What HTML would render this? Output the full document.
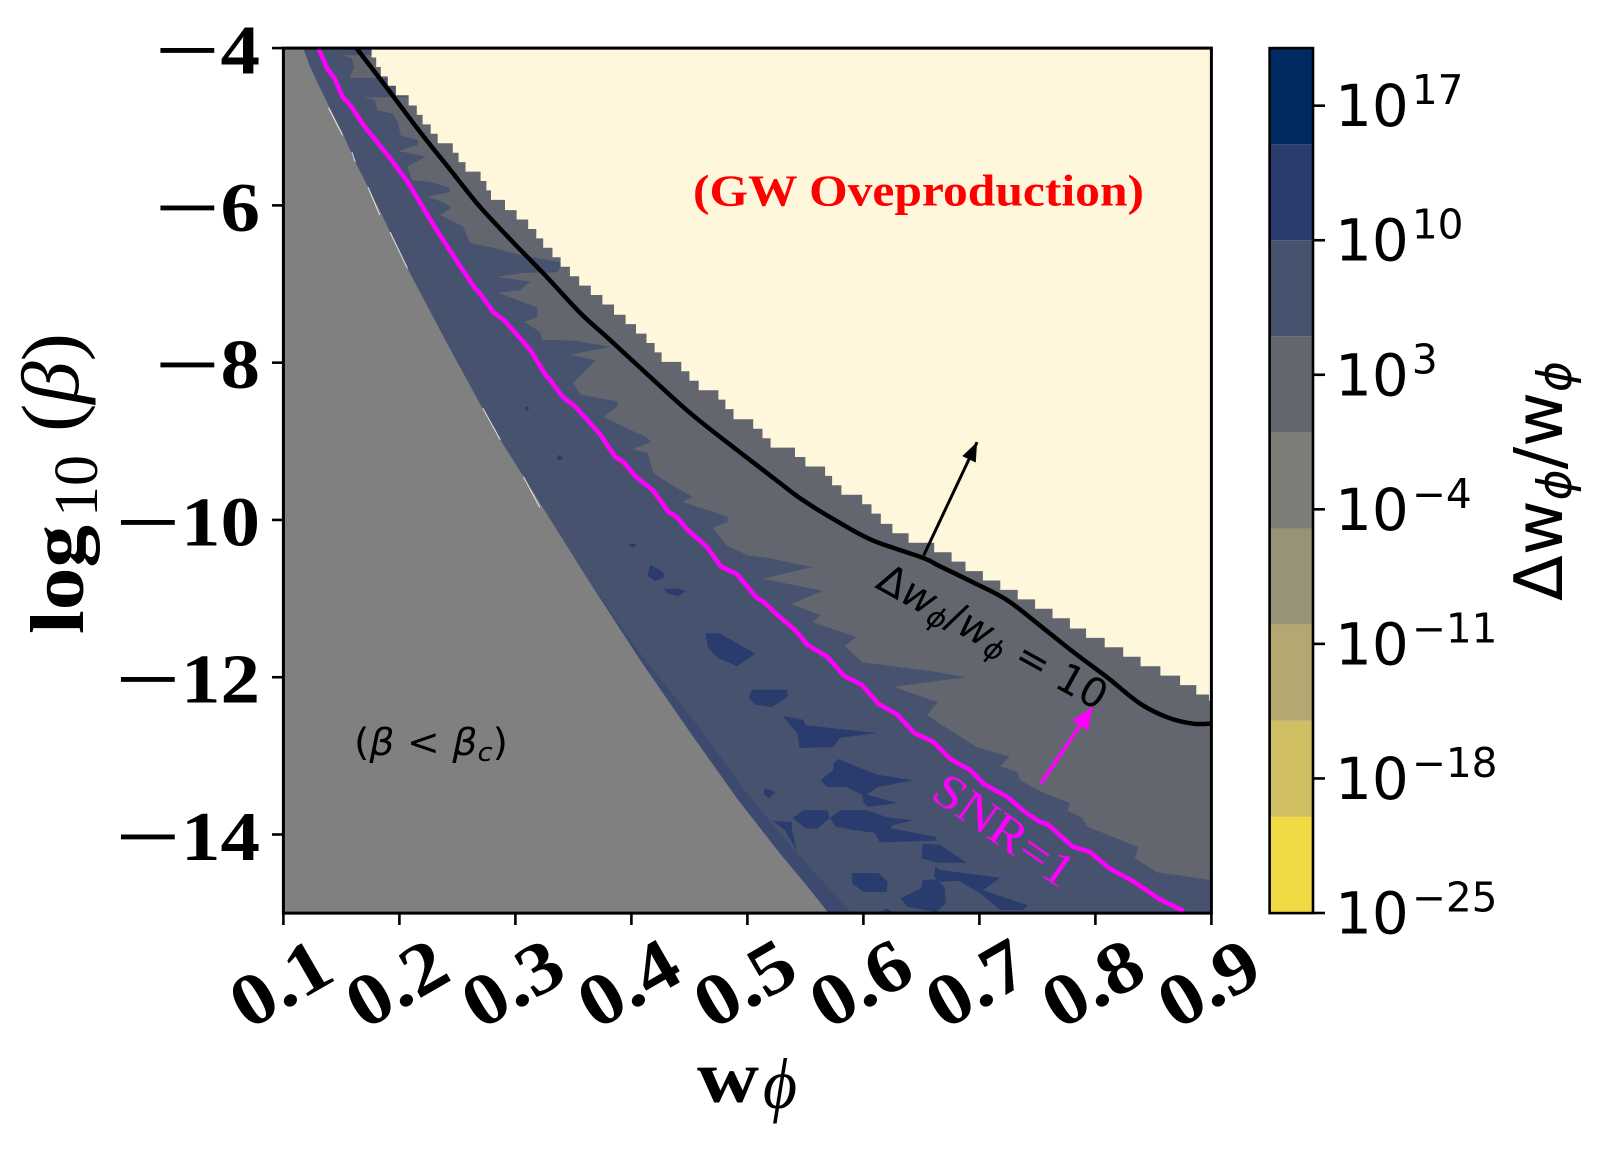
<!DOCTYPE html>
<html>
<head>
<meta charset="utf-8">
<title>Delta w contour chart</title>
<style>
html,body{margin:0;padding:0;background:#fff;width:1610px;height:1151px;overflow:hidden}
svg{display:block}
.serif{font-family:"Liberation Serif",serif}
.sans{font-family:"DejaVu Sans",sans-serif}
</style>
</head>
<body>
<svg id="chart" xmlns="http://www.w3.org/2000/svg" width="1610" height="1151" viewBox="0 0 1610 1151">
<defs><clipPath id="plot-clip"><rect x="283.4" y="48.1" width="928" height="865"/></clipPath></defs>
<g id="plot" clip-path="url(#plot-clip)"></g>
<g id="axes"></g>

<text class="serif" x="693" y="205.7" font-size="44" font-weight="bold" fill="#ff0000" textLength="451" lengthAdjust="spacingAndGlyphs">(GW Oveproduction)</text>
<text class="sans" x="354" y="755" font-size="37" fill="#000" textLength="154" lengthAdjust="spacingAndGlyphs">(<tspan font-style="italic">β</tspan> &lt; <tspan font-style="italic">β</tspan><tspan font-style="italic" font-size="26" dy="6">c</tspan><tspan dy="-6">)</tspan></text>
<text class="sans" transform="translate(874,587) rotate(29)" font-size="40.5" fill="#000">Δ<tspan font-style="italic">w</tspan><tspan font-style="italic" font-size="28" dy="6">ϕ</tspan><tspan dy="-6">/</tspan><tspan font-style="italic">w</tspan><tspan font-style="italic" font-size="28" dy="6">ϕ</tspan><tspan dy="-6"> = 10</tspan></text>
<text class="serif" transform="translate(929,797) rotate(35)" font-size="48" fill="#ff00ff" textLength="161" lengthAdjust="spacingAndGlyphs">SNR=1</text>

<text class="serif" fill="#000"><tspan x="697" y="1102" font-size="74" font-weight="bold" textLength="62" lengthAdjust="spacingAndGlyphs">w</tspan><tspan x="763" y="1108" font-size="72" font-style="italic" font-weight="normal" textLength="34" lengthAdjust="spacingAndGlyphs">ϕ</tspan></text>
<text class="serif" transform="translate(83,634) rotate(-90)" fill="#000"><tspan x="0" y="0" font-size="76" font-weight="bold" textLength="109" lengthAdjust="spacingAndGlyphs">log</tspan><tspan x="117" y="14" font-size="62" font-weight="normal" textLength="62" lengthAdjust="spacingAndGlyphs">10</tspan><tspan x="202" y="-5" font-size="82" font-weight="normal" textLength="99" lengthAdjust="spacingAndGlyphs">(<tspan font-style="italic">β</tspan>)</tspan></text>
<text class="sans" transform="translate(1562,601) rotate(-90)" font-size="67" fill="#000">Δw<tspan font-style="italic" font-size="47" dy="9">ϕ</tspan><tspan dy="-9">/w</tspan><tspan font-style="italic" font-size="47" dy="9">ϕ</tspan></text>
</svg>

<script>
// ---- chart data (w_phi, log10 beta) ----
const xTicks = [0.1,0.2,0.3,0.4,0.5,0.6,0.7,0.8,0.9];
const xTickLabels = ['0.1','0.2','0.3','0.4','0.5','0.6','0.7','0.8','0.9'];
const yTicks = [-4,-6,-8,-10,-12,-14];
const yTickLabels = ['4','6','8','10','12','14'];
const cbLevels = [-25,-20,-15,-10,-5,0,5,10,15,20];
const cbColors = ['#f1d944','#d0be62','#b3a871','#989376','#7e7d77','#63666f','#47536e','#2a3c6e','#002a62'];
const cbTicks = [17,10,3,-4,-11,-18,-25];
const cbTickLabels = ['17','10','3','−4','−11','−18','−25'];

const gwEdgeW = [.176,.180,.184,.190,.197,.208,.215,.220,.227,.233,.246,.251,.257,.270,.275,.279,.291,.301,.311,.318,.324,.332,.339,.347,.355,.365,.375,.385,.395,.404,.413,.420,.426,.443,.450,.458,.475,.481,.488,.505,.513,.520,.541,.550,.567,.573,.581,.599,.607,.615,.625,.639,.661,.676,.688,.703,.718,.733,.748,.763,.778,.792,.808,.824,.839,.856,.873,.887,.898];
const gwEdgeB = [-4.00,-4.12,-4.24,-4.36,-4.48,-4.60,-4.73,-4.85,-4.97,-5.09,-5.21,-5.33,-5.45,-5.57,-5.69,-5.81,-5.93,-6.06,-6.18,-6.30,-6.42,-6.54,-6.66,-6.78,-6.90,-7.02,-7.14,-7.26,-7.39,-7.51,-7.63,-7.75,-7.87,-7.99,-8.11,-8.23,-8.35,-8.47,-8.59,-8.72,-8.84,-8.96,-9.08,-9.20,-9.32,-9.44,-9.56,-9.68,-9.80,-9.92,-10.05,-10.17,-10.29,-10.41,-10.53,-10.65,-10.77,-10.89,-11.01,-11.13,-11.25,-11.38,-11.50,-11.62,-11.74,-11.86,-11.98,-12.10,-12.22,-12.30];

const darkEdgeW = [.178,.181,.151,.159,.161,.157,.196,.207,.169,.179,.181,.194,.199,.201,.216,.216,.199,.207,.223,.207,.211,.226,.242,.244,.224,.238,.245,.235,.255,.261,.281,.304,.341,.336,.307,.284,.313,.304,.285,.319,.319,.308,.321,.323,.351,.382,.347,.369,.350,.356,.388,.388,.376,.390,.413,.417,.401,.414,.419,.432,.453,.444,.483,.483,.470,.482,.500,.517,.556,.513,.565,.538,.563,.556,.594,.584,.599,.662,.688,.626,.664,.655,.672,.698,.726,.718,.733,.735,.755,.778,.776,.789,.793,.815,.837,.834,.853,.882,.900];
const darkEdgeB = [-4.00,-4.09,-4.09,-4.13,-4.25,-4.38,-4.38,-4.62,-4.63,-4.66,-4.79,-4.83,-4.95,-5.11,-5.17,-5.23,-5.31,-5.33,-5.38,-5.51,-5.68,-5.70,-5.77,-5.83,-5.89,-5.96,-6.03,-6.12,-6.27,-6.48,-6.54,-6.63,-6.73,-6.85,-6.86,-6.91,-6.97,-7.08,-7.11,-7.30,-7.42,-7.48,-7.61,-7.71,-7.72,-7.80,-7.90,-7.97,-8.26,-8.41,-8.49,-8.56,-8.69,-8.79,-8.95,-9.01,-9.10,-9.15,-9.40,-9.53,-9.71,-9.77,-9.96,-10.03,-10.10,-10.32,-10.45,-10.48,-10.60,-10.75,-10.90,-11.07,-11.21,-11.30,-11.49,-11.60,-11.81,-11.93,-12.00,-12.12,-12.32,-12.48,-12.65,-12.89,-13.01,-13.13,-13.21,-13.31,-13.47,-13.60,-13.70,-13.79,-13.90,-14.03,-14.16,-14.30,-14.48,-14.54,-14.58];

const grayEdgeW = [.117,.123,.129,.140,.151,.162,.173,.185,.196,.207,.218,.242,.269,.287,.307,.324,.360,.407,.451,.492,.528,.550,.570];
const grayEdgeB = [-4.00,-4.24,-4.43,-4.76,-5.08,-5.45,-5.77,-6.12,-6.47,-6.80,-7.11,-7.78,-8.51,-8.98,-9.45,-9.85,-10.70,-11.77,-12.71,-13.56,-14.24,-14.63,-15.00];

const bandEdgeW = [.360,.409,.457,.504,.543,.590];
const bandEdgeB = [-10.70,-11.72,-12.61,-13.56,-14.24,-15.00];

const patchW = [
 [.416,.427,.429,.420,.414],
 [.428,.439,.447,.440,.431],
 [.464,.476,.507,.491,.475,.466],
 [.504,.534,.535,.521,.507,.501],
 [.530,.548,.550,.612,.580,.574,.545,.543],
 [.578,.612,.643,.612,.603,.629,.604,.600,.599,.586,.569,.563,.574,.574],
 [.539,.548,.569,.571,.560,.550],
 [.571,.580,.603,.620,.643,.626,.623,.663,.662,.614,.610,.590,.576],
 [.651,.666,.689,.663,.650],
 [.662,.666,.718,.703,.742,.738,.718,.700,.682,.666,.661],
 [.590,.613,.621,.620,.600,.590],
 [.632,.650,.651,.663,.670,.671,.663,.638],
 [.522,.538,.539,.543,.532],
 [.614,.620,.626],
 [.515,.524,.519,.514],
 [.308,.310,.312,.310],
 [.335,.338,.341,.338],
 [.397,.401,.405,.401]
];
const patchB = [
 [-10.57,-10.66,-10.73,-10.78,-10.71],
 [-10.88,-10.87,-10.90,-10.97,-10.93],
 [-11.44,-11.44,-11.70,-11.86,-11.76,-11.63],
 [-12.16,-12.16,-12.25,-12.38,-12.35,-12.26],
 [-12.49,-12.54,-12.61,-12.71,-12.77,-12.89,-12.90,-12.71],
 [-13.04,-13.24,-13.31,-13.40,-13.49,-13.60,-13.65,-13.59,-13.50,-13.40,-13.40,-13.31,-13.18,-13.10],
 [-13.79,-13.69,-13.69,-13.79,-13.93,-13.92],
 [-13.79,-13.69,-13.69,-13.78,-13.82,-13.88,-13.92,-14.03,-14.08,-14.10,-13.98,-13.94,-13.90],
 [-14.12,-14.13,-14.36,-14.36,-14.30],
 [-14.41,-14.45,-14.55,-14.71,-14.90,-14.96,-14.96,-14.74,-14.59,-14.60,-14.54],
 [-14.49,-14.49,-14.60,-14.73,-14.73,-14.62],
 [-14.81,-14.68,-14.58,-14.57,-14.67,-14.87,-14.99,-14.92],
 [-13.83,-13.84,-13.98,-14.22,-13.94],
 [-14.99,-14.94,-14.99],
 [-13.41,-13.46,-13.54,-13.49],
 [-8.58,-8.55,-8.58,-8.61],
 [-9.21,-9.17,-9.21,-9.25],
 [-10.32,-10.30,-10.32,-10.35]
];

const sliverW = [[.139,.151],[.159,.162],[.173,.183],[.192,.207],[.272,.287],[.307,.321]];
const sliverB = [[-4.76,-5.11],[-5.32,-5.45],[-5.77,-6.12],[-6.34,-6.80],[-8.58,-8.98],[-9.45,-9.84]];

const snrW = [.130,.138,.144,.151,.159,.169,.192,.207,.232,.250,.265,.269,.281,.291,.313,.326,.329,.341,.351,.373,.386,.393,.403,.419,.432,.439,.448,.465,.477,.491,.508,.514,.526,.541,.552,.569,.583,.599,.613,.629,.644,.660,.675,.692,.704,.724,.738,.752,.759,.780,.795,.813,.832,.856,.876];
const snrB = [-4.00,-4.27,-4.38,-4.62,-4.75,-4.98,-5.40,-5.70,-6.31,-6.72,-7.05,-7.11,-7.36,-7.47,-7.84,-8.16,-8.20,-8.44,-8.55,-8.91,-9.20,-9.26,-9.44,-9.63,-9.90,-9.96,-10.12,-10.34,-10.59,-10.69,-10.99,-11.04,-11.21,-11.40,-11.59,-11.74,-11.98,-12.10,-12.34,-12.47,-12.71,-12.82,-13.04,-13.18,-13.36,-13.52,-13.70,-13.84,-13.87,-14.15,-14.22,-14.44,-14.59,-14.83,-14.97];

const deltaW = [.163,.192,.218,.244,.269,.298,.327,.356,.380,.422,.453,.491,.528,.548,.580,.608,.651,.666,.694,.724,.752,.781,.810,.838,.862,.884,.900];
const deltaB = [-4.00,-4.56,-5.07,-5.55,-6.01,-6.47,-6.91,-7.37,-7.69,-8.26,-8.67,-9.11,-9.53,-9.75,-10.04,-10.26,-10.48,-10.59,-10.79,-11.02,-11.34,-11.68,-12.00,-12.33,-12.51,-12.59,-12.59];

const blackArrowW = [.652,.698];
const blackArrowB = [-10.45,-9.01];
const snrArrowW = [.753,.797];
const snrArrowB = [-13.35,-12.39];

// ---- axis functions ----
const sx = w => 283.4 + (w - 0.1) * 1160;
const sy = b => 48.1 + (-4 - b) * 78.64;
const cy = e => 913 - (e + 25) * (865 / 45);

const NS = 'http://www.w3.org/2000/svg';
const plot = document.getElementById('plot');
const axes = document.getElementById('axes');
function make(tag, attrs, parent) {
  const n = document.createElementNS(NS, tag);
  for (const k in attrs) n.setAttribute(k, attrs[k]);
  parent.appendChild(n);
  return n;
}
const pts = (ws, bs) => ws.map((w, i) => sx(w).toFixed(1) + ',' + sy(bs[i]).toFixed(1));
function smoothPath(ws, bs) {
  const p = ws.map((w, i) => [sx(w), sy(bs[i])]);
  let d = 'M' + p[0][0].toFixed(1) + ' ' + p[0][1].toFixed(1);
  for (let i = 0; i < p.length - 1; i++) {
    const a = p[Math.max(i - 1, 0)], b = p[i], c = p[i + 1], e = p[Math.min(i + 2, p.length - 1)];
    const c1x = b[0] + (c[0] - a[0]) / 6, c1y = b[1] + (c[1] - a[1]) / 6;
    const c2x = c[0] - (e[0] - b[0]) / 6, c2y = c[1] - (e[1] - b[1]) / 6;
    d += ' C' + c1x.toFixed(1) + ' ' + c1y.toFixed(1) + ' ' + c2x.toFixed(1) + ' ' + c2y.toFixed(1) + ' ' + c[0].toFixed(1) + ' ' + c[1].toFixed(1);
  }
  return d;
}
let el;

// base mid-grey level
el = make('rect', {x: sx(.1), y: sy(-4), width: sx(.9) - sx(.1), height: sy(-15) - sy(-4), fill: '#63666f'}, plot);



// dark contour level
el = make('polygon', {points: pts(darkEdgeW, darkEdgeB).concat(pts([.9,.1,.1], [-15,-15,-4])).join(' '), fill: '#47536e'}, plot);



// darker patches
patchW.forEach((ws, i) => {
  const p = make('polygon', {points: pts(ws, patchB[i]).join(' '), fill: '#2a3c6e'}, plot);
  
  
});

// band along the excluded region (only the part of the edge below where the band begins)
const bandFrom = grayEdgeW.findIndex(w => w >= bandEdgeW[0]);
el = make('polygon', {points: pts(bandEdgeW, bandEdgeB).concat(pts(grayEdgeW.slice(bandFrom).reverse(), grayEdgeB.slice(bandFrom).reverse())).join(' '), fill: '#3c4a70'}, plot);



// excluded grey region
el = make('polygon', {points: pts(grayEdgeW, grayEdgeB).concat(pts([.1,.1], [-15,-4])).join(' '), fill: '#808080'}, plot);



// white slivers at the edge of the excluded region
sliverW.forEach((ws, i) => {
  const s = make('polyline', {points: pts(ws, sliverB[i]).join(' '), fill: 'none', stroke: '#ffffff', 'stroke-width': 1, opacity: .8}, plot);
  
  
});

// GW overproduction staircase
const stair = [];
gwEdgeW.forEach((w, i) => {
  stair.push(sx(w).toFixed(1) + ',' + sy(gwEdgeB[i]).toFixed(1));
  stair.push(sx(w).toFixed(1) + ',' + sy(gwEdgeB[i + 1]).toFixed(1));
});
stair.push(sx(.9) + ',' + sy(gwEdgeB[gwEdgeB.length - 1]));
stair.push(sx(.9) + ',' + sy(-4));
el = make('polygon', {points: stair.join(' '), fill: '#fff7dc'}, plot);



// contour lines
el = make('polyline', {points: pts(snrW, snrB).join(' '), fill: 'none', stroke: '#ff00ff', 'stroke-width': 4.5, 'stroke-linejoin': 'round'}, plot);


el = make('path', {d: smoothPath(deltaW, deltaB), fill: 'none', stroke: '#000000', 'stroke-width': 4.5, 'stroke-linejoin': 'round'}, plot);



// arrows
function arrowHead(x1, y1, x2, y2, len, wid) {
  const a = Math.atan2(y2 - y1, x2 - x1);
  const bx = x2 - len * Math.cos(a), by = y2 - len * Math.sin(a);
  const nx = -Math.sin(a) * wid / 2, ny = Math.cos(a) * wid / 2;
  return [x2 + ',' + y2, (bx + nx) + ',' + (by + ny), (bx - nx) + ',' + (by - ny)].join(' ');
}
{
  const x1 = sx(blackArrowW[0]), y1 = sy(blackArrowB[0]), x2 = sx(blackArrowW[1]), y2 = sy(blackArrowB[1]);
  el = make('line', {x1: x1, y1: y1, x2: x2, y2: y2, stroke: '#000', 'stroke-width': 3}, plot);
  
  
  el = make('polygon', {points: arrowHead(x1, y1, x2, y2, 19, 15), fill: '#000'}, plot);
  
  
}
{
  const x1 = sx(snrArrowW[0]), y1 = sy(snrArrowB[0]), x2 = sx(snrArrowW[1]), y2 = sy(snrArrowB[1]);
  el = make('line', {x1: x1, y1: y1, x2: x2, y2: y2, stroke: '#ff00ff', 'stroke-width': 3.5}, plot);
  
  
  el = make('polygon', {points: arrowHead(x1, y1, x2, y2, 21, 19), fill: '#ff00ff'}, plot);
  
  
}

// frame
el = make('rect', {x: sx(.1), y: sy(-4), width: sx(.9) - sx(.1), height: sy(-15) - sy(-4), fill: 'none', stroke: '#000', 'stroke-width': 3}, axes);



// x ticks + labels
xTicks.forEach((v, i) => {
  const x = sx(v);
  const t = make('line', {x1: x, x2: x, y1: 913, y2: 925, stroke: '#000', 'stroke-width': 2.6}, axes);
  
  
  const l = make('text', {transform: 'translate(' + (x - 3) + ',983) rotate(-30)', y: 25, 'text-anchor': 'middle', 'font-family': '"Liberation Serif",serif', 'font-weight': 'bold', 'font-size': 74, textLength: 104, lengthAdjust: 'spacingAndGlyphs'}, axes);
  l.textContent = xTickLabels[i];
  
  
});

// y ticks + labels
yTicks.forEach((v, i) => {
  const y = sy(v);
  const t = make('line', {x1: 272, x2: 283.4, y1: y, y2: y, stroke: '#000', 'stroke-width': 2.6}, axes);
  
  
  const s = yTickLabels[i];
  const w = s.length * 39.5;
  const dx = 260 - w;
  const l = make('text', {y: y + 25.5, 'font-family': '"Liberation Serif",serif', 'font-weight': 'bold', 'font-size': 70}, axes);
  const m = make('tspan', {x: dx - 66, textLength: 66, lengthAdjust: 'spacingAndGlyphs'}, l);
  m.textContent = '−';
  const d = make('tspan', {x: dx, textLength: w, lengthAdjust: 'spacingAndGlyphs'}, l);
  d.textContent = s;
  
  
});

// colorbar
cbColors.forEach((c, i) => {
  const b = make('rect', {x: 1269.6, width: 43.4, y: cy(cbLevels[i + 1]), height: cy(cbLevels[i]) - cy(cbLevels[i + 1]), fill: c}, axes);
  
  
});
el = make('rect', {x: 1269.6, y: 48.1, width: 43.4, height: 865, fill: 'none', stroke: '#000', 'stroke-width': 2.6}, axes);


cbTicks.forEach((v, i) => {
  const y = cy(v);
  const t = make('line', {x1: 1313, x2: 1325, y1: y, y2: y, stroke: '#000', 'stroke-width': 2.6}, axes);
  
  
  const l = make('text', {x: 1335, y: y + 20.5, 'font-family': '"DejaVu Sans",sans-serif', 'font-size': 58}, axes);
  const b = make('tspan', {}, l);
  b.textContent = '10';
  const e = make('tspan', {dx: 3, dy: -22, 'font-size': 40.6}, l);
  e.textContent = cbTickLabels[i];
  
  
});
</script>
</body>
</html>
